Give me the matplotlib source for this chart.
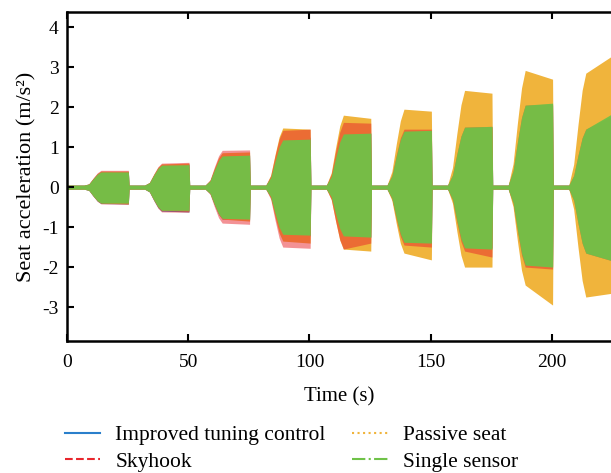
import matplotlib
matplotlib.use('Agg')
import matplotlib.pyplot as plt
from matplotlib.lines import Line2D
import numpy as np

plt.rcParams['font.family'] = ['Liberation Serif', 'DejaVu Serif']
plt.rcParams['axes.unicode_minus'] = False
plt.rcParams['font.size'] = 14

# one excitation burst every 25 s
burst_start = [0, 25, 50, 75, 100, 125, 150, 175, 200]
ramp_t = [7.0, 9.0, 10.8, 12.5, 14.0, 25.3]   # seconds after burst start
ramp_frac = [0.0, 0.2, 0.55, 0.85, 1.0]
baseline = 0.05

# envelope of the oscillation: (plateau start, plateau end) per burst
passive_top = [(0.40, 0.40), (0.58, 0.60), (0.86, 0.88), (1.48, 1.45), (1.80, 1.72),
               (1.95, 1.90), (2.42, 2.35), (2.92, 2.70), (2.85, 3.30)]
passive_bot = [(-0.40, -0.42), (-0.58, -0.60), (-0.80, -0.85), (-1.35, -1.40), (-1.55, -1.60),
               (-1.65, -1.82), (-2.00, -2.00), (-2.45, -2.95), (-2.75, -2.65)]
skyhook_top = [(0.42, 0.42), (0.60, 0.62), (0.92, 0.93), (1.42, 1.45), (1.62, 1.60),
               (1.45, 1.45), (1.50, 1.52), (2.05, 2.08), (1.45, 1.80)]
skyhook_bot = [(-0.42, -0.43), (-0.62, -0.63), (-0.90, -0.93), (-1.50, -1.53), (-1.55, -1.40),
               (-1.45, -1.50), (-1.60, -1.75), (-2.00, -2.05), (-1.65, -1.85)]
improved_top = [(0.39, 0.39), (0.56, 0.58), (0.80, 0.80), (1.20, 1.25), (1.33, 1.35),
                (1.40, 1.40), (1.48, 1.50), (2.02, 2.05), (1.45, 1.80)]
improved_bot = [(-0.41, -0.42), (-0.60, -0.62), (-0.80, -0.82), (-1.20, -1.22), (-1.22, -1.25),
                (-1.38, -1.40), (-1.50, -1.52), (-1.95, -2.00), (-1.62, -1.80)]
single_top = [(0.38, 0.38), (0.55, 0.56), (0.78, 0.80), (1.18, 1.20), (1.33, 1.35),
              (1.40, 1.42), (1.50, 1.52), (2.05, 2.10), (1.45, 1.85)]
single_bot = [(-0.40, -0.40), (-0.58, -0.58), (-0.78, -0.80), (-1.18, -1.20), (-1.22, -1.25),
              (-1.38, -1.40), (-1.52, -1.55), (-1.95, -2.00), (-1.65, -1.85)]

labels = ['Improved tuning control', 'Skyhook', 'Passive seat', 'Single sensor']
colors = ['#2a7fcb', '#e8262d', '#f0b43c', '#6fc248']
styles = ['-', '--', ':', '-.']


def envelope(pairs):
    sign = np.sign(pairs[0][0])
    t, v = [0.0], [sign * baseline]
    for t0, (a, b) in zip(burst_start, pairs):
        t += [t0 + dt for dt in ramp_t] + [t0 + ramp_t[-1] + 0.3]
        v += [sign * baseline] + [f * a for f in ramp_frac[1:]] + [b, sign * baseline]
    return np.array(t), np.array(v)


fig = plt.figure(figsize=(6.11, 4.73), dpi=100)
ax = fig.add_axes([0.1097, 0.279, 0.8903, 0.6956])

series = [
    (improved_top, improved_bot, colors[0], 1.0),
    (passive_top, passive_bot, colors[2], 1.0),
    (skyhook_top, skyhook_bot, colors[1], 0.5),
    (single_top, single_bot, colors[3], 0.94),
]
for top, bot, c, a in series:
    t, up = envelope(top)
    _, lo = envelope(bot)
    ax.fill_between(t, lo, up, color=c, alpha=a, lw=0)

ax.set_xlim(0, 224.4)
ax.set_ylim(-3.85, 4.38)
ax.set_xticks([0, 50, 100, 150, 200])
ax.set_yticks([-3, -2, -1, 0, 1, 2, 3, 4])
ax.tick_params(direction='in', length=5, width=1.5, top=True, right=False, labelsize=14)
ax.tick_params(axis='x', pad=9)
ax.tick_params(axis='y', pad=6)
for s in ['left', 'top', 'bottom']:
    ax.spines[s].set_linewidth(1.8)
ax.spines['right'].set_visible(False)
ax.set_xlabel('Time (s)', fontsize=15, labelpad=12)
ax.set_ylabel('Seat acceleration (m/s²)', fontsize=16, labelpad=4)

handles = [Line2D([], [], color=c, ls=s, lw=1.5) for c, s in zip(colors, styles)]
fig.legend(handles, labels, loc='upper left', bbox_to_anchor=(0.0923, 0.1194), ncol=2,
           frameon=False, fontsize=15.5, handlelength=1.63, handletextpad=0.7,
           columnspacing=1.25, labelspacing=0.3, borderaxespad=0)

fig.savefig('out.png', dpi=100)
